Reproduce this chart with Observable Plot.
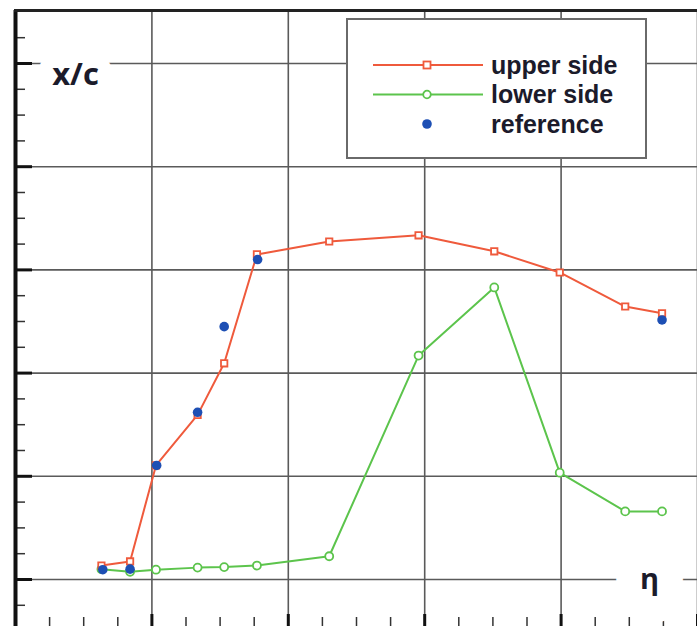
<!DOCTYPE html>
<html><head><meta charset="utf-8">
<script src="https://cdn.jsdelivr.net/npm/d3@7"></script>
<script src="https://cdn.jsdelivr.net/npm/@observablehq/plot@0.6"></script>
<style>
body{margin:0;background:#fff;}
#chart{position:relative;width:697px;height:626px;overflow:hidden;}
</style>
</head><body><div id="chart"></div>
<script>
// ---- data ----
const eta        = [0.126, 0.168, 0.206, 0.267, 0.306, 0.354, 0.460, 0.591, 0.702, 0.798, 0.894, 0.948];
const upperSide  = [0.027, 0.035, 0.221, 0.319, 0.419, 0.630, 0.655, 0.667, 0.636, 0.595, 0.529, 0.516];
const lowerSide  = [0.020, 0.015, 0.019, 0.023, 0.024, 0.027, 0.045, 0.434, 0.566, 0.207, 0.132, 0.132];
const refEta     = [0.128, 0.168, 0.207, 0.267, 0.306, 0.355, 0.948];
const refXc      = [0.019, 0.020, 0.221, 0.324, 0.490, 0.620, 0.503];
const gridEta    = [0.2, 0.4, 0.6, 0.8, 1.0];
const gridXc     = [0.0, 0.2, 0.4, 0.6, 0.8, 1.0];
const minorTicks = [0.05, 0.1, 0.15, 0.25, 0.3, 0.35, 0.45, 0.5, 0.55, 0.65, 0.7, 0.75, 0.85, 0.9, 0.95, 1.05];
const majorTicks = [0.0, 0.2, 0.4, 0.6, 0.8, 1.0];
const minorTicksY = [-0.05, 0.05, 0.1, 0.15, 0.25, 0.3, 0.35, 0.45, 0.5, 0.55, 0.65, 0.7, 0.75, 0.85, 0.9, 0.95, 1.05];
const seriesNames = ["upper side", "lower side", "reference"];
const yLabel = "x/c";
const xLabel = "η";

const RED = "#ef5a3c", GREEN = "#5cc44c", BLUE = "#1d4fb4", GRID = "#5a5a5a", INK = "#1b1b2b";
const FONT = "'Open Sans', 'DejaVu Sans', sans-serif";
const LEGEND_FONT = "'Liberation Sans', Arial, sans-serif";

const rows = eta.map((e, i) => ({eta: e, upper: upperSide[i], lower: lowerSide[i]}));
const refs = refEta.map((e, i) => ({eta: e, xc: refXc[i]}));

const W = 697, H = 626;
const chart = Plot.plot({
  width: W, height: H,
  marginLeft: 15, marginRight: 0, marginTop: 10, marginBottom: 0,
  style: {background: "white", fontFamily: FONT},
  x: {domain: [0, 1], axis: null},
  y: {domain: [-0.0911, 1.1027], axis: null},
  marks: [
    Plot.ruleX(gridEta, {stroke: GRID, strokeWidth: 1.6}),
    Plot.ruleY(gridXc, {stroke: GRID, strokeWidth: 1.6}),
    // left axis ticks
    Plot.tickY(minorTicksY, {y: d => d, insetRight: 672, stroke: "#333", strokeWidth: 1.5}),
    Plot.tickY(majorTicks, {y: d => d, insetRight: 665, stroke: "#111", strokeWidth: 3}),
    // bottom axis ticks
    Plot.tickX(minorTicks, {x: d => d, insetTop: 607, stroke: "#333", strokeWidth: 1.5}),
    Plot.tickX(majorTicks, {x: d => d, insetTop: 604, stroke: "#111", strokeWidth: 3}),
    // borders
    Plot.ruleX([0], {stroke: "#111", strokeWidth: 4}),
    Plot.frame({anchor: "top", stroke: "#222", strokeWidth: 3}),
    // axis labels with white halo
    Plot.text([yLabel], {frameAnchor: "top-left", dx: 60, dy: 52, text: d => d, fontSize: 31, fontWeight: "bold",
      fill: INK, stroke: "white", strokeWidth: 26, textAnchor: "middle"}),
    Plot.text([xLabel], {frameAnchor: "bottom-right", dx: -48, dy: -38, text: d => d, fontSize: 29, fontWeight: "bold",
      fill: INK, stroke: "white", strokeWidth: 52, textAnchor: "middle"}),
    // series
    Plot.line(rows, {x: "eta", y: "lower", stroke: GREEN, strokeWidth: 2}),
    Plot.dot(rows, {x: "eta", y: "lower", r: 4, stroke: GREEN, fill: "white", strokeWidth: 1.8}),
    Plot.line(rows, {x: "eta", y: "upper", stroke: RED, strokeWidth: 2}),
    Plot.dot(rows, {x: "eta", y: "upper", symbol: "square", r: 3.6, stroke: RED, fill: "white", strokeWidth: 1.8}),
    Plot.dot(refs, {x: "eta", y: "xc", r: 4.8, fill: BLUE, stroke: "none"})
  ]
});
document.getElementById("chart").appendChild(chart);

// legend inside the plot area
const svg = d3.select(chart);
const lg = svg.append("g").attr("transform", "translate(347,19)").attr("text-anchor", "start");
lg.append("rect").attr("width", 299).attr("height", 139).attr("fill", "white").attr("stroke", "#6a6a6a").attr("stroke-width", 2);
const colors = [RED, GREEN, BLUE];
seriesNames.forEach((name, i) => {
  const y = 46 + i * 29.5;
  const g = lg.append("g").attr("transform", `translate(0,${y})`);
  if (i < 2) {
    g.append("line").attr("x1", 26).attr("x2", 136).attr("y1", 0).attr("y2", 0)
      .attr("stroke", colors[i]).attr("stroke-width", 2);
    if (i === 0) g.append("rect").attr("x", 76.5).attr("y", -3.5).attr("width", 7).attr("height", 7)
      .attr("fill", "white").attr("stroke", colors[i]).attr("stroke-width", 1.8);
    else g.append("circle").attr("cx", 80).attr("r", 3.8).attr("fill", "white").attr("stroke", colors[i]).attr("stroke-width", 1.8);
  } else {
    g.append("circle").attr("cx", 80).attr("r", 4.8).attr("fill", colors[i]);
  }
  g.append("text").attr("x", 144).attr("dy", "0.35em").attr("fill", INK).attr("text-anchor", "start")
    .attr("font-family", LEGEND_FONT).attr("font-weight", "bold").attr("font-size", 25).text(name);
});
</script>
</body></html>
